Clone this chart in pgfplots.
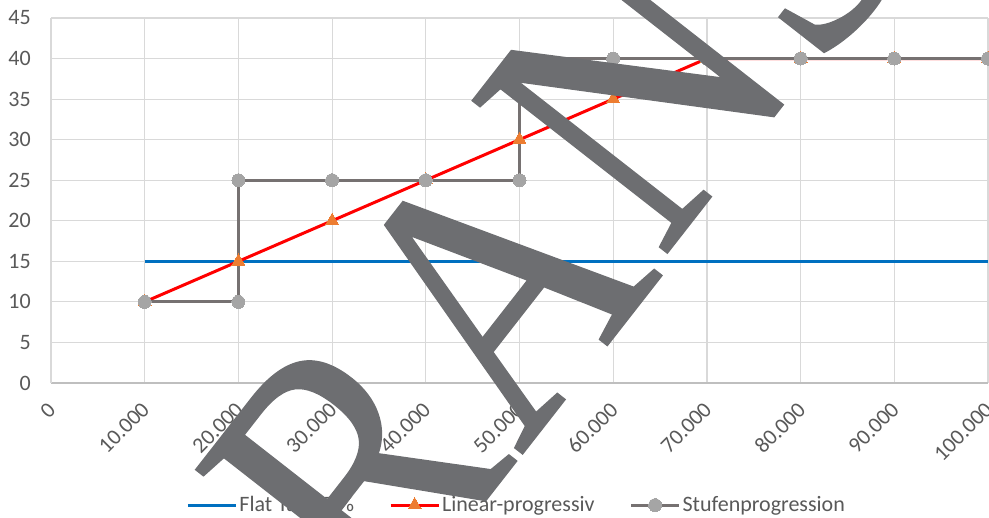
\documentclass[border=0pt]{standalone}
\usepackage{fontspec}
\setmainfont{Carlito}
\newfontfamily\wmfont[FakeBold=0.4]{Liberation Serif}
\usepackage{graphicx}
\usepackage{pgfplots}
\pgfplotsset{compat=1.18}
\definecolor{gridgray}{HTML}{D9D9D9}
\definecolor{axisgray}{HTML}{BFBFBF}
\definecolor{txtgray}{HTML}{595959}
\definecolor{flatblue}{HTML}{0070C0}
\definecolor{linred}{HTML}{FF0000}
\definecolor{triorange}{HTML}{ED7D31}
\definecolor{stufline}{HTML}{767171}
\definecolor{stufmark}{HTML}{A5A5A5}
\definecolor{wmgray}{HTML}{6D6E71}
\newcommand{\chartfont}{\fontsize{22}{26}\selectfont}
\newcommand{\wmsize}{\wmfont\fontsize{378}{378}\selectfont}

\begin{document}
\begin{tikzpicture}
\useasboundingbox (0pt,0pt) rectangle (989pt,518pt);

\begin{axis}[%
at={(51pt,135pt)}, anchor=south west,
width=937pt, height=365pt, scale only axis,
xmin=0, xmax=100000,
ymin=0, ymax=45,
scaled x ticks=false,
xtick={0,10000,20000,30000,40000,50000,60000,70000,80000,90000,100000},
xticklabels={0,10.000,20.000,30.000,40.000,50.000,60.000,70.000,80.000,90.000,100.000},
ytick={0,5,...,45},
major tick length=0pt,
/pgf/number format/assume math mode=true,
ticklabel style={font=\chartfont, text=txtgray},
% shifts are given in the label's rotated frame
xticklabel style={rotate=45, anchor=east, inner sep=0pt, xshift=-15.6pt, yshift=-17pt},
yticklabel style={anchor=east, inner sep=0pt, xshift=-20pt},
grid=major,
major grid style={draw=gridgray, line width=1.2pt},
axis x line*=bottom,
axis y line*=left,
x axis line style={draw=axisgray, line width=1.5pt, -},
y axis line style={draw=gridgray, line width=1.2pt, -},
legend columns=3,
legend style={at={(0.497,-0.3345)}, anchor=center, draw=none, fill=none,
  font=\chartfont, text=txtgray, inner sep=0pt,
  /tikz/every even column/.append style={column sep=33pt}},
legend cell align=left,
legend image code/.code={%
  \draw[#1, mark repeat=2, mark phase=2] plot coordinates {(0pt,0pt) (24pt,0pt) (48pt,0pt)};},
]
\addplot[color=flatblue, line width=3pt, mark=none] table[row sep=crcr] {%
10000	15\\
20000	15\\
30000	15\\
40000	15\\
50000	15\\
60000	15\\
70000	15\\
80000	15\\
90000	15\\
100000	15\\
};
\addlegendentry{Flat Tax 15 \%}
\addplot[color=linred, line width=3pt, mark=triangle*, mark size=7.5pt,
  mark options={solid, fill=triorange, draw=triorange, line width=0pt}] table[row sep=crcr] {%
10000	10\\
20000	15\\
30000	20\\
40000	25\\
50000	30\\
60000	35\\
70000	40\\
80000	40\\
90000	40\\
100000	40\\
};
\addlegendentry{Linear-progressiv}
\addplot[color=stufline, line width=3pt, mark=*, mark size=6.5pt,
  mark options={solid, fill=stufmark, draw=stufmark, line width=0pt}] table[row sep=crcr] {%
10000	10\\
20000	10\\
20000	25\\
30000	25\\
40000	25\\
50000	25\\
50000	40\\
60000	40\\
70000	40\\
80000	40\\
90000	40\\
100000	40\\
};
\addlegendentry{Stufenprogression}
\end{axis}

% watermark letters laid over the chart
\begin{scope}[every node/.style={rotate=52, anchor=base, inner sep=0pt, text=wmgray, font=\wmsize}]
\node at (451pt,-27pt) {\scalebox{0.85}[1]{R}};
\node at (592pt,153pt) {\scalebox{0.85}[1]{A}};
\node at (733pt,349pt) {\scalebox{0.85}[1]{N}};
\node at (873pt,513pt) {\scalebox{0.85}[1]{S}};
\end{scope}
\end{tikzpicture}
\end{document}
